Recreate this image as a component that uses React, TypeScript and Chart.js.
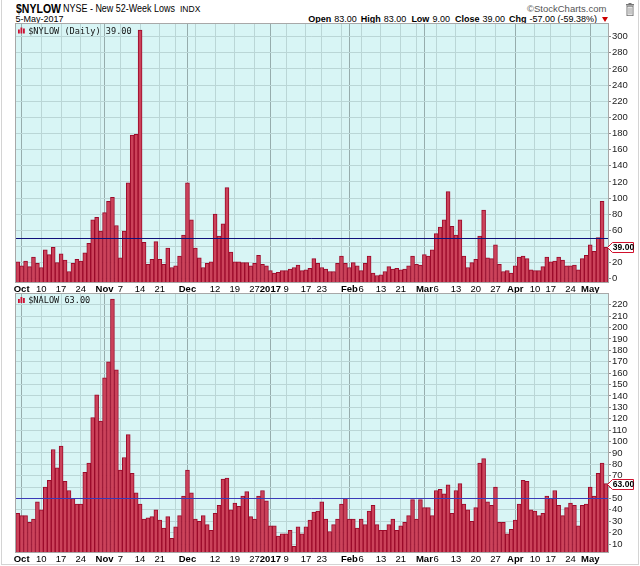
import React, { useEffect, useRef } from "react";
import { Chart, registerables } from "chart.js";

Chart.register(...registerables);

// ---------------- data ----------------
// trading days shown (Sep 30 2016 .. May 5 2017)
const sep2016 = [30];
const oct2016 = [3, 4, 5, 6, 7, 10, 11, 12, 13, 14, 17, 18, 19, 20, 21, 24, 25, 26, 27, 28, 31];
const nov2016 = [1, 2, 3, 4, 7, 8, 9, 10, 11, 14, 15, 16, 17, 18, 21, 22, 23, 25, 28, 29, 30];
const dec2016 = [1, 2, 5, 6, 7, 8, 9, 12, 13, 14, 15, 16, 19, 20, 21, 22, 23, 27, 28, 29, 30];
const jan2017 = [3, 4, 5, 6, 9, 10, 11, 12, 13, 17, 18, 19, 20, 23, 24, 25, 26, 27, 30, 31];
const feb2017 = [1, 2, 3, 6, 7, 8, 9, 10, 13, 14, 15, 16, 17, 21, 22, 23, 24, 27, 28];
const mar2017 = [1, 2, 3, 6, 7, 8, 9, 10, 13, 14, 15, 16, 17, 20, 21, 22, 23, 24, 27, 28, 29, 30, 31];
const apr2017 = [3, 4, 5, 6, 7, 10, 11, 12, 13, 17, 18, 19, 20, 21, 24, 25, 26, 27, 28];
const may2017 = [1, 2, 3, 4, 5];

const monthBlocks: [string, number[]][] = [
  ["2016-09", sep2016],
  ["2016-10", oct2016],
  ["2016-11", nov2016],
  ["2016-12", dec2016],
  ["2017-01", jan2017],
  ["2017-02", feb2017],
  ["2017-03", mar2017],
  ["2017-04", apr2017],
  ["2017-05", may2017],
];
const tradingDates: string[] = monthBlocks.flatMap(([ym, days]) =>
  days.map((d) => `${ym}-${String(d).padStart(2, "0")}`)
);

// $NYLOW daily values
const nyLows = [
  21,
  16, 22, 15, 27, 19, 14, 36, 30, 39, 20, 31, 23, 9, 19, 24, 22, 32, 44, 73, 76, 59,
  82, 96, 101, 66, 26, 59, 119, 178, 179, 308, 45, 18, 24, 46, 24, 18, 38, 14, 16, 28, 54,
  119, 73, 38, 26, 14, 19, 21, 80, 53, 68, 113, 33, 21, 21, 20, 20, 16, 19, 29, 18, 16,
  10, 7, 8, 10, 10, 12, 14, 17, 10, 11, 13, 25, 19, 14, 12, 9, 9, 19, 28, 19,
  14, 20, 16, 10, 19, 28, 7, 4, 5, 9, 15, 12, 13, 11, 12, 16, 28, 18, 17,
  30, 28, 36, 56, 64, 73, 108, 65, 54, 73, 28, 14, 20, 24, 53, 85, 26, 25, 42, 18, 9, 10, 7,
  16, 27, 28, 25, 11, 10, 10, 15, 27, 21, 22, 27, 23, 16, 16, 17, 11, 25, 29,
  42, 34, 51, 96, 39,
];

// $NALOW daily values
const naLows = [
  37,
  35, 35, 29, 32, 47, 40, 60, 66, 93, 77, 96, 65, 57, 50, 45, 45, 73, 81, 121, 141, 118,
  156, 170, 225, 163, 75, 86, 106, 72, 55, 45, 32, 33, 34, 40, 31, 24, 34, 15, 25, 35, 52,
  75, 55, 32, 30, 35, 27, 22, 37, 44, 67, 68, 40, 46, 43, 52, 56, 34, 32, 52, 57, 48,
  26, 26, 17, 19, 19, 22, 8, 25, 19, 25, 31, 38, 39, 47, 32, 21, 27, 32, 45, 50,
  32, 32, 24, 32, 27, 39, 44, 27, 22, 22, 27, 32, 22, 26, 29, 35, 49, 32, 49,
  42, 42, 35, 57, 58, 54, 62, 37, 57, 63, 45, 40, 30, 42, 81, 85, 47, 44, 60, 29, 29, 19, 23,
  31, 45, 66, 65, 40, 39, 35, 37, 52, 50, 57, 44, 35, 42, 46, 44, 26, 44, 45,
  60, 52, 72, 81, 63,
];

// right-axis tick values
const nyTicks = [0, 20, 40, 60, 80, 100, 120, 140, 160, 180, 200, 220, 240, 260, 280, 300];
const naTicks = [10, 20, 30, 40, 50, 60, 70, 80, 90, 100, 110, 120, 130, 140, 150, 160, 170, 180, 190, 200, 210, 220];

// x-axis labels
const tickDates = [
  "2016-10-03", "2016-10-10", "2016-10-17", "2016-10-24",
  "2016-11-01", "2016-11-07", "2016-11-14", "2016-11-21",
  "2016-12-01", "2016-12-12", "2016-12-19", "2016-12-27",
  "2017-01-03", "2017-01-09", "2017-01-17", "2017-01-23",
  "2017-02-01", "2017-02-06", "2017-02-13", "2017-02-21",
  "2017-03-01", "2017-03-06", "2017-03-13", "2017-03-20", "2017-03-27",
  "2017-04-03", "2017-04-10", "2017-04-17", "2017-04-24",
  "2017-05-01",
];
const tickTexts = [
  "Oct", "10", "17", "24",
  "Nov", "7", "14", "21",
  "Dec", "12", "19", "27",
  "2017", "9", "17", "23",
  "Feb", "6", "13", "21",
  "Mar", "6", "13", "20", "27",
  "Apr", "10", "17", "24",
  "May",
];
const monthStartDates = [
  "2016-10-03", "2016-11-01", "2016-12-01", "2017-01-03",
  "2017-02-01", "2017-03-01", "2017-04-03", "2017-05-01",
];
// first trading day of each week (vertical grid)
const weekStartDates = [
  "2016-10-03", "2016-10-10", "2016-10-17", "2016-10-24", "2016-10-31",
  "2016-11-07", "2016-11-14", "2016-11-21", "2016-11-28",
  "2016-12-05", "2016-12-12", "2016-12-19", "2016-12-27",
  "2017-01-03", "2017-01-09", "2017-01-17", "2017-01-23", "2017-01-30",
  "2017-02-06", "2017-02-13", "2017-02-21", "2017-02-27",
  "2017-03-06", "2017-03-13", "2017-03-20", "2017-03-27",
  "2017-04-03", "2017-04-10", "2017-04-17", "2017-04-24",
  "2017-05-01",
];

const referenceLevel = 50;

// header quote
const quoteOpen = "83.00";
const quoteHigh = "83.00";
const quoteLow = "9.00";
const quoteClose = "39.00";
const quoteChg = "-57.00 (-59.38%)";

// ---------------- styling ----------------
const FONT_SANS = '"Liberation Sans", Arial, sans-serif';
const FONT_MONO = '"DejaVu Sans Mono", monospace';
const PLOT_BG = "rgb(216, 245, 245)";
const GRID_LIGHT = "rgb(186, 214, 214)";
const GRID_MONTH = "rgb(150, 172, 172)";
const BAR_FILL = "rgb(203, 66, 90)";
const BAR_EDGE = "rgb(155, 10, 42)";

const idxOf = (d: string) => tradingDates.indexOf(d);
const labelByIndex = new Map<number, { text: string; bold: boolean }>();
tickDates.forEach((d, k) => {
  labelByIndex.set(idxOf(d), { text: tickTexts[k], bold: monthStartDates.includes(d) });
});
const monthIdx = new Set(monthStartDates.map(idxOf));
const weekIdx = new Set(weekStartDates.map(idxOf));

type PanelSpec = {
  values: number[];
  ticks: number[];
  min: number;
  max: number;
  legend: string;
  lastText: string;
  refColor: string;
  legendDy: number;
};

function panelPlugin(spec: PanelSpec) {
  return {
    id: "panelDeco",
    beforeDraw(chart: any) {
      const { ctx, chartArea: a } = chart;
      ctx.save();
      ctx.fillStyle = PLOT_BG;
      ctx.fillRect(a.left, a.top, a.right - a.left, a.bottom - a.top);
      ctx.restore();
    },
    afterDatasetsDraw(chart: any) {
      const { ctx, chartArea: a } = chart;
      const y = Math.round(chart.scales.y.getPixelForValue(referenceLevel)) + 0.5;
      ctx.save();
      ctx.strokeStyle = spec.refColor;
      ctx.lineWidth = 1;
      ctx.beginPath();
      ctx.moveTo(a.left, y);
      ctx.lineTo(a.right, y);
      ctx.stroke();
      // legend icon
      const baseY = a.top + spec.legendDy;
      ctx.fillStyle = "#cc1133";
      const hs = [4, 6, 5];
      hs.forEach((h, i) => ctx.fillRect(Math.round(a.left) + 2 + i * 2.5, baseY - h, 1.8, h));
      ctx.fillStyle = "#111";
      ctx.font = `8.6px ${FONT_MONO}`;
      ctx.textBaseline = "alphabetic";
      ctx.textAlign = "left";
      ctx.fillText(spec.legend, a.left + 12.5, baseY);
      ctx.restore();
    },
    afterDraw(chart: any) {
      const { ctx, chartArea: a } = chart;
      ctx.save();
      ctx.strokeStyle = "#a8a8a8";
      ctx.lineWidth = 1;
      ctx.strokeRect(Math.round(a.left) - 0.5, Math.round(a.top) - 0.5, Math.round(a.right - a.left) + 1, Math.round(a.bottom - a.top) + 1);
      // last value tag
      const last = spec.values[spec.values.length - 1];
      const cy = Math.round(chart.scales.y.getPixelForValue(last)) + 0.5;
      const x0 = Math.round(a.right) - 0.5;
      const x1 = x0 + 5;
      const x2 = x0 + 26;
      const h = 5;
      ctx.beginPath();
      ctx.moveTo(x0, cy);
      ctx.lineTo(x1, cy - h);
      ctx.lineTo(x2, cy - h);
      ctx.lineTo(x2, cy + h);
      ctx.lineTo(x1, cy + h);
      ctx.closePath();
      ctx.fillStyle = "#fff";
      ctx.fill();
      ctx.strokeStyle = "#d0102c";
      ctx.stroke();
      ctx.fillStyle = "#000";
      ctx.font = `bold 8.5px ${FONT_SANS}`;
      ctx.textAlign = "center";
      ctx.textBaseline = "middle";
      ctx.fillText(spec.lastText, (x1 + x2) / 2 + 0.5, cy + 0.5);
      ctx.restore();
    },
  };
}

function buildChart(canvas: HTMLCanvasElement, spec: PanelSpec) {
  return new Chart(canvas, {
    type: "bar",
    data: {
      labels: tradingDates,
      datasets: [
        {
          data: spec.values,
          backgroundColor: BAR_FILL,
          borderColor: BAR_EDGE,
          borderWidth: 1,
          barPercentage: 1,
          categoryPercentage: 1,
          base: spec.min,
        } as any,
      ],
    },
    options: {
      responsive: false,
      animation: false,
      devicePixelRatio: 1,
      events: [],
      layout: { padding: { left: 15.7, right: 0, top: 8, bottom: 0 } },
      plugins: { legend: { display: false }, tooltip: { enabled: false }, title: { display: false } },
      scales: {
        x: {
          type: "category",
          offset: true,
          grid: {
            offset: false,
            drawTicks: false,
            lineWidth: 1,
            color: (c: any) =>
              monthIdx.has(c.index) ? GRID_MONTH : weekIdx.has(c.index) ? GRID_LIGHT : "rgba(0,0,0,0)",
          },
          border: { display: false },
          ticks: {
            autoSkip: false,
            maxRotation: 0,
            minRotation: 0,
            padding: 2,
            color: "#000",
            font: (c: any) => ({
              family: FONT_SANS,
              size: 9.5,
              weight: labelByIndex.get(c.index)?.bold ? "bold" : "normal",
            }),
            callback: (_v: any, i: number) => labelByIndex.get(i)?.text ?? "",
          },
          afterFit: (s: any) => {
            s.height = 12;
          },
        },
        y: {
          position: "right",
          min: spec.min,
          max: spec.max,
          afterBuildTicks: (s: any) => {
            s.ticks = spec.ticks.map((v) => ({ value: v }));
          },
          grid: { color: GRID_LIGHT, lineWidth: 1, drawTicks: true, tickLength: 3, tickColor: "#888" },
          border: { display: false },
          ticks: {
            autoSkip: false,
            padding: 1,
            color: "#222",
            font: { family: FONT_SANS, size: 9.5 },
            callback: (v: any) => String(v),
          },
          afterFit: (s: any) => {
            s.width = 32;
          },
        },
      },
    } as any,
    plugins: [panelPlugin(spec)],
  });
}

const topSpec: PanelSpec = {
  values: nyLows,
  ticks: nyTicks,
  min: -4,
  max: 315.6,
  legend: "$NYLOW (Daily) 39.00",
  lastText: "39.00",
  refColor: "#10107a",
  legendDy: 9.5,
};
const bottomSpec: PanelSpec = {
  values: naLows,
  ticks: naTicks,
  min: 3,
  max: 229.5,
  legend: "$NALOW 63.00",
  lastText: "63.00",
  refColor: "#3a3ab8",
  legendDy: 9,
};

const abs = (left: number, top: number, extra: React.CSSProperties = {}): React.CSSProperties => ({
  position: "absolute",
  left,
  top,
  lineHeight: 1,
  whiteSpace: "nowrap",
  ...extra,
});

export default function App() {
  const topRef = useRef<HTMLCanvasElement>(null);
  const botRef = useRef<HTMLCanvasElement>(null);

  useEffect(() => {
    const c1 = buildChart(topRef.current!, topSpec);
    const c2 = buildChart(botRef.current!, bottomSpec);
    return () => {
      c1.destroy();
      c2.destroy();
    };
  }, []);

  return (
    <div
      style={{
        position: "fixed",
        left: 0,
        top: 0,
        width: 640,
        height: 566,
        background: "#fff",
        overflow: "hidden",
        fontFamily: FONT_SANS,
        color: "#000",
      }}
    >
      <div style={{ position: "absolute", left: 1, top: 0, width: 636, height: 564, borderLeft: "1px solid #d4d4d4", borderRight: "1px solid #d4d4d4", borderBottom: "1px solid #d4d4d4" }} />
      <span style={abs(15.5, 1.5, { fontWeight: "bold", fontSize: 13, transform: "scaleX(0.81)", transformOrigin: "0 0" })}>$NYLOW</span>
      <span style={abs(63, 3.2, { fontSize: 11, transform: "scaleX(0.815)", transformOrigin: "0 0" })}>NYSE - New 52-Week Lows</span>
      <span style={abs(180, 5.2, { fontSize: 8.5 })}>INDX</span>
      <span style={abs(15.5, 14.8, { fontSize: 9 })}>5-May-2017</span>
      <span style={abs(527, 4, { fontSize: 9.5, color: "#555" })}>©StockCharts.com</span>
      <svg style={{ position: "absolute", left: 626, top: 3 }} width="8" height="13" viewBox="0 0 8 13">
        <rect x="0" y="1" width="8" height="1.5" fill="#777" />
        <rect x="2.5" y="0" width="3" height="1.2" fill="#777" />
        <rect x="1" y="3.2" width="6" height="9.5" fill="none" stroke="#777" strokeWidth="1" />
        <line x1="3" y1="4.5" x2="3" y2="11.5" stroke="#777" strokeWidth="0.8" />
        <line x1="5" y1="4.5" x2="5" y2="11.5" stroke="#777" strokeWidth="0.8" />
      </svg>
      <div
        style={{
          position: "absolute",
          right: 32,
          top: 14.8,
          lineHeight: 1,
          fontSize: 9,
          whiteSpace: "nowrap",
          display: "flex",
          gap: 3,
          alignItems: "baseline",
        }}
      >
        <b>Open</b>
        <span>{quoteOpen}</span>
        <b style={{ marginLeft: 1 }}>High</b>
        <span>{quoteHigh}</span>
        <b style={{ marginLeft: 2 }}>Low</b>
        <span>{quoteLow}</span>
        <b style={{ marginLeft: 2 }}>Close</b>
        <span>{quoteClose}</span>
        <b style={{ marginLeft: 1 }}>Chg</b>
        <span>{quoteChg}</span>
        <svg width="6" height="5" viewBox="0 0 6 5" style={{ marginLeft: 2 }}>
          <polygon points="0,0 6,0 3,5" fill="#cc0000" />
        </svg>
      </div>
      <canvas
        ref={topRef}
        width={640}
        height={278}
        style={{ position: "absolute", left: 0, top: 16, width: 640, height: 278 }}
      />
      <canvas
        ref={botRef}
        width={640}
        height={278}
        style={{ position: "absolute", left: 0, top: 286, width: 640, height: 278 }}
      />
    </div>
  );
}
